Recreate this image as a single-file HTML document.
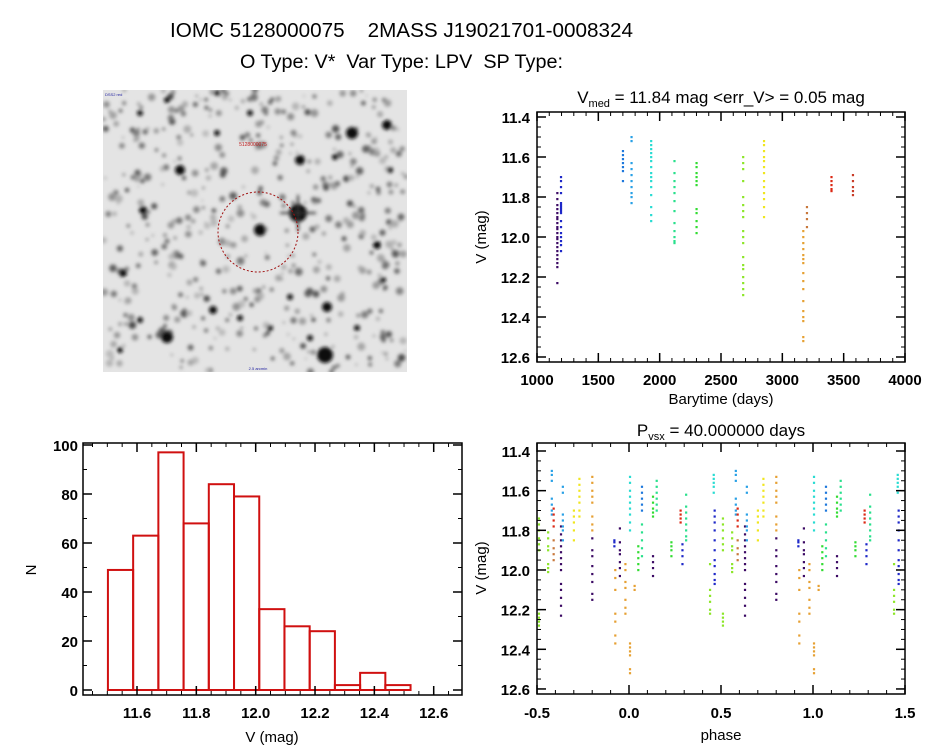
<!DOCTYPE html>
<html><head><meta charset="utf-8"><style>
html,body{margin:0;padding:0;background:#fff;}
svg{display:block;font-family:"Liberation Sans",sans-serif;}
text{white-space:pre;}
</style></head><body>
<svg id="chart" width="944" height="747" viewBox="0 0 944 747" xmlns="http://www.w3.org/2000/svg">
<defs><filter id="blur" x="-50%" y="-50%" width="200%" height="200%"><feGaussianBlur stdDeviation="1.8"/></filter>
<clipPath id="imgclip"><rect x="103" y="90" width="304" height="282"/></clipPath></defs>
<text x="170" y="37" font-size="20" textLength="463" lengthAdjust="spacingAndGlyphs">IOMC 5128000075    2MASS J19021701-0008324</text>
<text x="240" y="68" font-size="19" textLength="323" lengthAdjust="spacingAndGlyphs">O Type: V*  Var Type: LPV  SP Type:</text>
<g id="img" clip-path="url(#imgclip)"></g>
<g id="lc"></g>
<g id="ph"></g>
<g id="hist"></g>
</svg>
<script>
// ---------- data ----------
const clusterTimes = [1165,1195,1700,1770,1930,2120,2300,2680,2850,3170,3200,3400,3575];
const clusterColors = ['#3c0a64','#1e28c8','#1e78dc','#28a0e6','#28dcd2','#28e08c','#32dc32','#8ce628','#f0e61e','#e6a032','#c8783c','#dc2814','#c83c28'];
const clusterMags = [
 [11.78,11.81,11.84,11.86,11.88,11.9,11.91,11.93,11.95,11.96,11.98,12.0,12.01,12.03,12.05,12.07,12.09,12.11,12.13,12.15,12.23],
 [11.70,11.72,11.75,11.78,11.83,11.84,11.85,11.86,11.87,11.88,11.92,11.95,11.98,12.0,12.02,12.04,12.07],
 [11.57,11.59,11.61,11.63,11.65,11.67,11.72],
 [11.50,11.52,11.63,11.66,11.69,11.72,11.75,11.78,11.80,11.83],
 [11.52,11.54,11.56,11.58,11.60,11.62,11.65,11.68,11.70,11.72,11.75,11.79,11.85,11.89,11.92],
 [11.62,11.68,11.72,11.75,11.78,11.82,11.87,11.93,11.97,12.0,12.02,12.03],
 [11.63,11.65,11.68,11.70,11.72,11.74,11.86,11.88,11.92,11.95,11.98],
 [11.60,11.63,11.66,11.72,11.80,11.84,11.87,11.90,11.97,12.0,12.03,12.10,12.14,12.16,12.20,12.23,12.26,12.29],
 [11.52,11.54,11.57,11.60,11.62,11.65,11.68,11.72,11.75,11.78,11.81,11.85,11.90],
 [11.97,12.0,12.03,12.06,12.09,12.11,12.13,12.18,12.22,12.26,12.32,12.37,12.40,12.42,12.50,12.52],
 [11.85,11.88,11.91,11.95],
 [11.70,11.72,11.74,11.76,11.77],
 [11.69,11.72,11.75,11.77,11.79]
];
const phaseVals = [-0.49,-0.49,-0.44,-0.42,-0.41,-0.41,-0.37,-0.36,-0.30,-0.27,-0.20,-0.20,-0.08,-0.075,-0.05,-0.02,0.005,0.005,0.03,0.05,0.07,0.07,0.13,0.13,0.15,0.23,0.28,0.29,0.31,0.44,0.46,0.465];
const phaseColor = [7,7,7,3,11,10,0,3,8,8,9,0,1,9,0,9,4,9,9,6,2,5,6,0,5,6,11,1,5,7,4,1];
const phaseMags = [
 [11.74,11.77,11.80,11.84,11.87,11.90],[12.22,12.24,12.26,12.28],
 [11.81,11.84,11.88,11.90,11.97,11.99,12.01],
 [11.50,11.52,11.55,11.64,11.67,11.70,11.72],
 [11.69,11.72,11.75,11.78],[11.85,11.89,11.92,11.95],
 [11.78,11.82,11.85,11.88,11.91,11.94,11.97,12.0,12.07,12.10,12.14,12.18,12.23],
 [11.58,11.61,11.72,11.75,11.78,11.80,11.85],
 [11.70,11.73,11.76,11.80,11.85],
 [11.54,11.57,11.60,11.63,11.66,11.70,11.73],
 [11.53,11.56,11.60,11.63,11.66,11.73,11.77,11.80],[11.84,11.90,11.93,11.98,12.02,12.06,12.12,12.15],
 [11.85,11.86,11.88],
 [12.00,12.04,12.10,12.22,12.26,12.33,12.37],
 [11.79,11.86,11.90,11.92,11.96,11.99,12.03],
 [11.97,12.0,12.06,12.09,12.15,12.19,12.22],
 [11.53,11.56,11.60,11.63,11.66,11.69,11.72,11.76,11.80],
 [12.37,12.39,12.41,12.43,12.50,12.52],
 [12.08,12.10],
 [11.88,11.91,11.94,11.97,12.0],
 [11.58,11.61,11.64,11.67,11.70],[11.77,11.81,11.85,11.89,11.93],
 [11.63,11.66,11.69,11.71,11.73],[11.93,11.96,11.99,12.03],
 [11.55,11.58,11.61,11.64,11.67,11.70],
 [11.86,11.88,11.90,11.93],
 [11.70,11.72,11.74,11.76],
 [11.87,11.90,11.93,11.97],
 [11.62,11.68,11.71,11.74,11.77,11.80,11.83,11.85],
 [11.97,12.10,12.13,12.16,12.20,12.22],
 [11.52,11.54,11.56,11.58,11.61],
 [11.70,11.73,11.76,11.80,11.85,11.90,11.95,11.98,12.02,12.05,12.07]
];
const histEdges = [11.502,11.587,11.672,11.757,11.842,11.927,12.012,12.097,12.182,12.267,12.352,12.437,12.522];
const histCounts = [49,63,97,68,84,79,33,26,24,2,7,2];
const lcXTicks = [1000,1500,2000,2500,3000,3500,4000];
const magTicks = [11.4,11.6,11.8,12.0,12.2,12.4,12.6];
const phaseTicks = [-0.5,0.0,0.5,1.0,1.5];
const histXTicks = [11.6,11.8,12.0,12.2,12.4,12.6];
const histYTicks = [0,20,40,60,80,100];

// ---------- helpers ----------
const NS='http://www.w3.org/2000/svg';
function mk(parent,tag,attrs,txt){const e=document.createElementNS(NS,tag);for(const k in attrs)e.setAttribute(k,attrs[k]);if(txt!==undefined)e.textContent=txt;parent.appendChild(e);return e;}

const xT=t=>537+(t-1000)*368/3000, yT=m=>117+(m-11.4)*200;
const xP=p=>537+(p+0.5)*184, yP=m=>451+(m-11.4)*198.3;
const xH=v=>137+(v-11.6)*296.7, yH=n=>690-n*2.45;

function frame(g,x0,y0,x1,y1,name){
 const r=mk(g,'rect',{x:x0,y:y0,width:x1-x0,height:y1-y0,fill:'none',stroke:'#000','stroke-width':1.5});
 
 
}
function xAxis(g,ticks,fx,minStep,lo,hi,y0,y1,fmt,labY,name){
 const n=Math.round((hi-lo)/minStep);
 for(let i=0;i<=n;i++){const x=fx(lo+i*minStep);mk(g,'line',{x1:x,x2:x,y1:y1,y2:y1-4,stroke:'#000'});mk(g,'line',{x1:x,x2:x,y1:y0,y2:y0+4,stroke:'#000'});}
 ticks.forEach(v=>{const x=fx(v);mk(g,'line',{x1:x,x2:x,y1:y1,y2:y1-9,stroke:'#000','stroke-width':1.5});mk(g,'line',{x1:x,x2:x,y1:y0,y2:y0+9,stroke:'#000','stroke-width':1.5});
  const t=mk(g,'text',{x:x,y:labY,'font-size':15,'text-anchor':'middle','font-weight':'bold'},fmt(v));
  
  });
}
function yAxis(g,ticks,fy,minStep,lo,hi,x0,x1,fmt,labX,name){
 const n=Math.round((hi-lo)/minStep);
 for(let i=0;i<=n;i++){const y=fy(lo+i*minStep);mk(g,'line',{x1:x0,x2:x0+4,y1:y,y2:y,stroke:'#000'});mk(g,'line',{x1:x1,x2:x1-4,y1:y,y2:y,stroke:'#000'});}
 ticks.forEach(v=>{const y=fy(v);mk(g,'line',{x1:x0,x2:x0+9,y1:y,y2:y,stroke:'#000','stroke-width':1.5});mk(g,'line',{x1:x1,x2:x1-9,y1:y,y2:y,stroke:'#000','stroke-width':1.5});
  const t=mk(g,'text',{x:labX,y:y+6,'font-size':15,'text-anchor':'end','font-weight':'bold'},fmt(v));
  
  });
}

// ---------- sky image ----------
(function(){
 const g=document.getElementById('img');
 mk(g,'rect',{x:103,y:90,width:304,height:282,fill:'#e4e4e4'});
 const bg=mk(g,'g',{filter:'url(#blur)'});
 let s=12345;const rnd=()=>{s=(s*16807)%2147483647;return s/2147483647;};
 for(let i=0;i<500;i++){const x=103+rnd()*304,y=90+rnd()*282,r=1+rnd()*3;const c=Math.floor(70+rnd()*120);mk(bg,'circle',{cx:x,cy:y,r:r,fill:`rgb(${c},${c},${c})`});}
 const stars=[[298,213,9],[260,230,6],[325,355,8],[352,133,6],[387,125,5],[300,160,5],[180,170,5],[167,337,6],[327,307,5],[213,310,4],[123,273,4],[143,210,4],[377,245,4],[310,338,3],[357,328,3],[240,318,3],[270,328,3],[120,350,3],[250,113,3],[167,100,3],[217,93,3],[390,170,3],[335,157,3],[217,133,3],[290,297,3],[140,113,3],[140,320,3],[383,280,3]];
 stars.forEach(s2=>mk(bg,'circle',{cx:s2[0],cy:s2[1],r:s2[2],fill:'#111'}));
 mk(bg,'line',{x1:280,x2:316,y1:213,y2:213,stroke:'#333','stroke-width':2});
 mk(bg,'line',{x1:298,x2:298,y1:195,y2:231,stroke:'#333','stroke-width':2});
 const c=mk(g,'circle',{cx:258,cy:232,r:40,fill:'none',stroke:'#a01010','stroke-width':1,'stroke-dasharray':'2,2'});
 
 
 mk(g,'text',{x:253,y:146,'font-size':5,fill:'#c02020','text-anchor':'middle'},'5128000075');
 mk(g,'text',{x:105,y:96,'font-size':4,fill:'#2020a0'},'DSS2 red');
 mk(g,'text',{x:258,y:370,'font-size':4,fill:'#2020a0','text-anchor':'middle'},'2.5 arcmin');
})();

// ---------- light curve ----------
(function(){
 const g=document.getElementById('lc');
 const st=mk(g,'text',{x:721,y:103,'font-size':17,'text-anchor':'middle'});
 
 
 mk(st,'tspan',{},'V');mk(st,'tspan',{'font-size':11,dy:4},'med');mk(st,'tspan',{dy:-4},' = 11.84 mag <err_V> = 0.05 mag');
 clusterTimes.forEach((t,i)=>{clusterMags[i].forEach(m=>{
  const d=mk(g,'rect',{x:xT(t)-1,y:yT(m)-1,width:2.2,height:2.2,fill:clusterColors[i]});
  
  });});
 frame(g,537,112,905,362,'light-curve-frame');
 xAxis(g,lcXTicks,xT,100,1000,4000,112,362,v=>v,385,'x-tick-label');
 yAxis(g,magTicks,yT,0.05,11.4,12.6,537,905,v=>v.toFixed(1),530,'y-tick-label');
 const xt=mk(g,'text',{x:721,y:404,'font-size':15,'text-anchor':'middle'},'Barytime (days)');
 
 
 const yt=mk(g,'text',{x:0,y:0,'font-size':15,'text-anchor':'middle',transform:'translate(486,237) rotate(-90)'},'V (mag)');
 
 
})();

// ---------- phase plot ----------
(function(){
 const g=document.getElementById('ph');
 const st=mk(g,'text',{x:721,y:436,'font-size':17,'text-anchor':'middle'});
 
 
 mk(st,'tspan',{},'P');mk(st,'tspan',{'font-size':11,dy:4},'vsx');mk(st,'tspan',{dy:-4},' = 40.000000 days');
 phaseVals.forEach((p,i)=>{[p,p+1].forEach(pp=>{if(pp<-0.5||pp>1.5)return;phaseMags[i].forEach(m=>{
  const d=mk(g,'rect',{x:xP(pp)-1,y:yP(m)-1,width:2.2,height:2.2,fill:clusterColors[phaseColor[i]]});
  
  });});});
 frame(g,537,443,905,694,'phase-frame');
 xAxis(g,phaseTicks,xP,0.1,-0.5,1.5,443,694,v=>v.toFixed(1),718,'x-tick-label');
 yAxis(g,magTicks,yP,0.05,11.4,12.6,537,905,v=>v.toFixed(1),530,'y-tick-label');
 const xt=mk(g,'text',{x:721,y:740,'font-size':15,'text-anchor':'middle'},'phase');
 
 
 const yt=mk(g,'text',{x:0,y:0,'font-size':15,'text-anchor':'middle',transform:'translate(486,568) rotate(-90)'},'V (mag)');
 
 
})();

// ---------- histogram ----------
(function(){
 const g=document.getElementById('hist');
 histCounts.forEach((n,i)=>{
  const x0=xH(histEdges[i]),x1=xH(histEdges[i+1]);
  const b=mk(g,'rect',{x:x0,y:yH(n),width:x1-x0,height:yH(0)-yH(n),fill:'none',stroke:'#d01010','stroke-width':2});
  
  });
 frame(g,83,443,462,695,'histogram-frame');
 xAxis(g,histXTicks,xH,0.05,11.45,12.65,443,695,v=>v.toFixed(1),718,'x-tick-label');
 yAxis(g,histYTicks,yH,10,0,100,83,462,v=>v,78,'y-tick-label');
 const xt=mk(g,'text',{x:272,y:742,'font-size':15,'text-anchor':'middle'},'V (mag)');
 
 
 const yt=mk(g,'text',{x:0,y:0,'font-size':15,'text-anchor':'middle',transform:'translate(36,570) rotate(-90)'},'N');
 
 
})();
</script>
</body></html>
